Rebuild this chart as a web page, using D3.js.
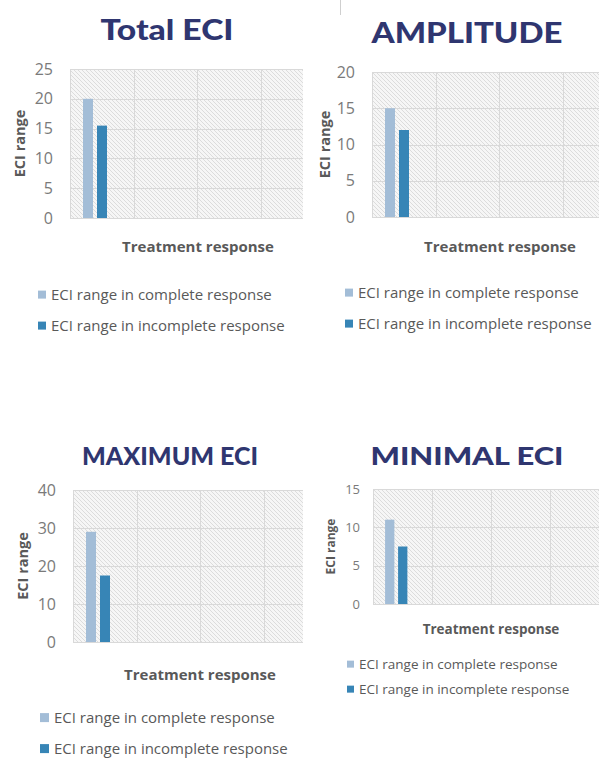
<!DOCTYPE html>
<html>
<head>
<meta charset="utf-8">
<script src="https://cdn.jsdelivr.net/npm/d3@7"></script>
<style>
  html, body { margin: 0; padding: 0; background: #ffffff; }
  svg { display: block; }
</style>
</head>
<body>
<svg id="chart" width="599" height="758"></svg>
<script>
// ---- Data ----
const panelTitles = ["Total ECI", "AMPLITUDE", "MAXIMUM ECI", "MINIMAL ECI"];
const seriesNames = ["ECI range in complete response", "ECI range in incomplete response"];
const completeValues = [20, 15, 29, 11];
const incompleteValues = [15.5, 12, 17.5, 7.5];
const yTickValues = [
  [0, 5, 10, 15, 20, 25],
  [0, 5, 10, 15, 20],
  [0, 10, 20, 30, 40],
  [0, 5, 10, 15]
];
const categorySlots = ["Treatment response", "slot2", "slot3", "slot4"];
const xAxisTitle = "Treatment response";
const yAxisTitle = "ECI range";

// ---- Layout / style ----
const seriesColors = ["#a3bdd7", "#3785b6"];
const titleColor = "#2f3670";
const labelColor = "#595959";
const tickColor = "#7a7a7a";
const gridColor = "#d9d9d9";

const layouts = [
  { titleX: 167, titleY: 40, titleSize: 29, titleW: 133, left: 70, top: 69, bottom: 218, slotW: 63.5, clipR: 303,
    tickSize: 16, tickGap: 17, yLabX: 25, ylabSize: 14.5, xLabX: 198, xLabY: 252, xlabSize: 15,
    legX: 38, legY: [300, 331], legSize: 15, sq: 8 },
  { titleX: 467, titleY: 43, titleSize: 29, titleW: 191, left: 372, top: 72, bottom: 217, slotW: 63.5, clipR: 599,
    tickSize: 16, tickGap: 17, yLabX: 330, ylabSize: 14.5, xLabX: 500, xLabY: 252, xlabSize: 15,
    legX: 345, legY: [298, 329], legSize: 15, sq: 8 },
  { titleX: 170, titleY: 465, titleSize: 25, titleW: 176, left: 73, top: 490, bottom: 642, slotW: 63.5, clipR: 303,
    tickSize: 16, tickGap: 17, yLabX: 28, ylabSize: 14.5, xLabX: 200, xLabY: 680, xlabSize: 15,
    legX: 40, legY: [723, 754], legSize: 15, sq: 9 },
  { titleX: 467, titleY: 465, titleSize: 25, titleW: 193, left: 373, top: 489, bottom: 604, slotW: 59, clipR: 599,
    tickSize: 13, tickGap: 13, yLabX: 335, ylabSize: 12, xLabX: 491, xLabY: 634, xlabSize: 13.5,
    legX: 347, legY: [669, 694], legSize: 13.5, sq: 7 }
];

const svg = d3.select("#chart");
const defs = svg.append("defs");

const pat = defs.append("pattern")
  .attr("id", "hatch")
  .attr("patternUnits", "userSpaceOnUse")
  .attr("width", 4).attr("height", 4);
pat.append("rect").attr("width", 4).attr("height", 4).attr("fill", "#f6f6f6");
pat.append("path")
  .attr("d", "M0,0 L4,4 M-1,3 L1,5 M3,-1 L5,1")
  .attr("stroke", "#d6d6d6").attr("stroke-width", 0.8);

const bodyFont = "'Open Sans', Lato, sans-serif";

panelTitles.forEach((title, i) => {
  const L = layouts[i];
  const ticks = yTickValues[i];
  const yMax = d3.max(ticks);
  const vals = [completeValues[i], incompleteValues[i]];

  const g = svg.append("g");

  const clipId = "clip" + i;
  defs.append("clipPath").attr("id", clipId)
    .append("rect")
    .attr("x", L.left - 1).attr("y", L.top - 1)
    .attr("width", L.clipR - L.left + 1).attr("height", L.bottom - L.top + 2);

  const x0 = d3.scaleBand()
    .domain(categorySlots)
    .range([L.left, L.left + L.slotW * categorySlots.length])
    .padding(0);
  const bw = x0.bandwidth();
  const x1 = d3.scaleBand()
    .domain(seriesNames)
    .range([bw * 13 / 63.5, bw * 37 / 63.5])
    .paddingInner(0.286).paddingOuter(0);
  const y = d3.scaleLinear().domain([0, yMax]).range([L.bottom, L.top]);

  // Title
  g.append("text")
    .attr("x", L.titleX).attr("y", L.titleY)
    .attr("text-anchor", "middle")
    .attr("font-family", "Lato, sans-serif")
    .attr("font-weight", 900)
    .attr("font-size", L.titleSize)
    .attr("textLength", L.titleW)
    .attr("lengthAdjust", "spacingAndGlyphs")
    .attr("fill", titleColor)
    .text(title);

  const plot = g.append("g").attr("clip-path", `url(#${clipId})`);

  plot.append("rect")
    .attr("x", L.left).attr("y", L.top)
    .attr("width", x0.range()[1] - L.left)
    .attr("height", L.bottom - L.top)
    .attr("fill", "url(#hatch)");

  plot.selectAll(".hg").data(ticks).enter().append("line")
    .attr("x1", L.left).attr("x2", x0.range()[1])
    .attr("y1", d => Math.round(y(d)) + 0.5).attr("y2", d => Math.round(y(d)) + 0.5)
    .attr("stroke", gridColor).attr("stroke-width", 1);

  plot.selectAll(".vg").data(categorySlots).enter().append("line")
    .attr("x1", d => Math.round(x0(d)) + 0.5).attr("x2", d => Math.round(x0(d)) + 0.5)
    .attr("y1", L.top).attr("y2", L.bottom)
    .attr("stroke", gridColor).attr("stroke-width", 1);

  plot.selectAll(".bar").data(vals).enter().append("rect")
    .attr("x", (d, k) => x0(categorySlots[0]) + x1(seriesNames[k]))
    .attr("width", x1.bandwidth())
    .attr("y", d => y(d))
    .attr("height", d => L.bottom - y(d))
    .attr("fill", (d, k) => seriesColors[k]);

  const yAxis = d3.axisLeft(y).tickValues(ticks).tickSize(0).tickPadding(L.tickGap);
  const ya = g.append("g").attr("transform", `translate(${L.left},0)`).call(yAxis);
  ya.select(".domain").remove();
  ya.selectAll("text")
    .attr("font-family", bodyFont)
    .attr("font-size", L.tickSize)
    .attr("fill", tickColor);

  g.append("text")
    .attr("transform", `translate(${L.yLabX},${(L.top + L.bottom) / 2}) rotate(-90)`)
    .attr("text-anchor", "middle")
    .attr("font-family", bodyFont)
    .attr("font-weight", 700)
    .attr("font-size", L.ylabSize)
    .attr("fill", labelColor)
    .text(yAxisTitle);

  g.append("text")
    .attr("x", L.xLabX).attr("y", L.xLabY)
    .attr("text-anchor", "middle")
    .attr("font-family", bodyFont)
    .attr("font-weight", 700)
    .attr("font-size", L.xlabSize)
    .attr("fill", labelColor)
    .text(xAxisTitle);

  seriesNames.forEach((s, k) => {
    const ly = L.legY[k];
    g.append("rect")
      .attr("x", L.legX).attr("y", ly - L.sq / 2 - L.legSize * 0.36)
      .attr("width", L.sq).attr("height", L.sq)
      .attr("fill", seriesColors[k]);
    g.append("text")
      .attr("x", L.legX + L.sq + 5).attr("y", ly)
      .attr("font-family", bodyFont)
      .attr("font-size", L.legSize)
      .attr("fill", labelColor)
      .text(s);
  });
});

svg.append("line")
  .attr("x1", 340.5).attr("x2", 340.5).attr("y1", 0).attr("y2", 15)
  .attr("stroke", "#cfcfcf").attr("stroke-width", 1);
</script>
</body>
</html>
